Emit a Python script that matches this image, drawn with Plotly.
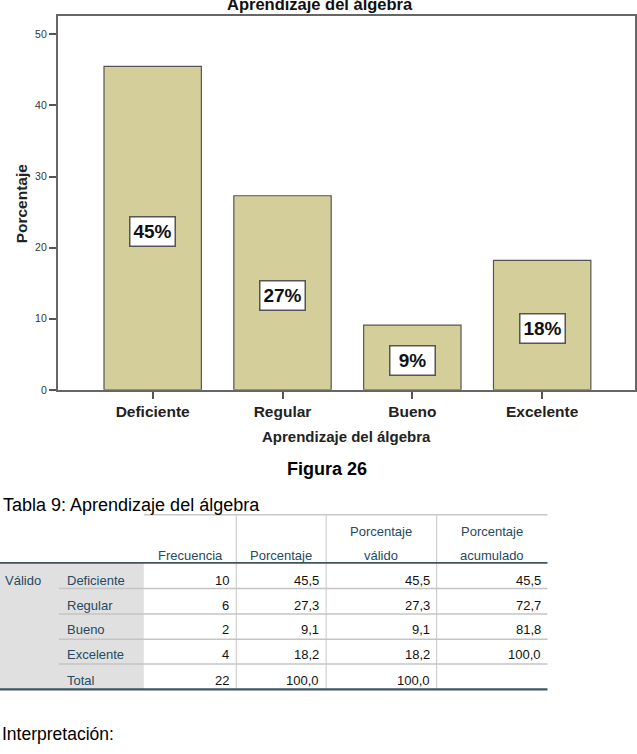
import plotly.graph_objects as go

# ---- data ----
categories = ["Deficiente", "Regular", "Bueno", "Excelente"]
percent = [45.5, 27.3, 9.1, 18.2]
bar_labels = ["45%", "27%", "9%", "18%"]
y_ticks = [0, 10, 20, 30, 40, 50]

table_rows = ["Deficiente", "Regular", "Bueno", "Excelente", "Total"]
frecuencia = ["10", "6", "2", "4", "22"]
porcentaje = ["45,5", "27,3", "9,1", "18,2", "100,0"]
porc_valido = ["45,5", "27,3", "9,1", "18,2", "100,0"]
porc_acum = ["45,5", "72,7", "81,8", "100,0", ""]

W, H = 637, 754
FONT = "Arial, Liberation Sans, sans-serif"


def X(px):
    return px / W


def Y(py):
    return 1 - py / H


fig = go.Figure(
    go.Bar(
        x=categories,
        y=percent,
        marker=dict(color="#D4CF9A", line=dict(color="#555555", width=1.2)),
        hoverinfo="skip",
    )
)

annotations = []
shapes = []

# bar labels (boxed)
for c, v, t in zip(categories, percent, bar_labels):
    annotations.append(dict(
        x=c, y=v / 2, xref="x", yref="y", text=t, showarrow=False,
        font=dict(family=FONT, size=19, color="#111", weight="bold"),
        bgcolor="white", bordercolor="#555555", borderwidth=1.5, borderpad=2,
        width=40, height=24,
        yshift=-3,
    ))

# chart title (cut at top)
annotations.append(dict(
    x=X(321), y=Y(4), xref="paper", yref="paper", text="Aprendizaje del álgebra",
    showarrow=False, xanchor="center", yanchor="middle",
    font=dict(family=FONT, size=16.5, color="#111", weight="bold"),
))
# axis titles
annotations.append(dict(
    x=X(347), y=Y(440), xref="paper", yref="paper", text="Aprendizaje del álgebra",
    showarrow=False, xanchor="center", yanchor="middle",
    font=dict(family=FONT, size=15, color="#222", weight="bold"),
))
annotations.append(dict(
    x=X(21), y=Y(205), xref="paper", yref="paper", text="Porcentaje",
    showarrow=False, xanchor="center", yanchor="middle", textangle=-90,
    font=dict(family=FONT, size=15.5, color="#222", weight="bold"),
))
# Figura caption
annotations.append(dict(
    x=X(328), y=Y(473), xref="paper", yref="paper", text="Figura 26",
    showarrow=False, xanchor="center", yanchor="middle",
    font=dict(family=FONT, size=18, color="#000", weight="bold"),
))
# Table caption
annotations.append(dict(
    x=X(1), y=Y(509), xref="paper", yref="paper", text="Tabla 9: Aprendizaje del álgebra",
    showarrow=False, xanchor="left", yanchor="middle",
    font=dict(family=FONT, size=18, color="#000"),
))
# Interpretación
annotations.append(dict(
    x=X(0), y=Y(740), xref="paper", yref="paper", text="Interpretación:",
    showarrow=False, xanchor="left", yanchor="middle",
    font=dict(family=FONT, size=17.5, color="#000"),
))

HDR = "#264A60"
txt = dict(family=FONT, size=13, color=HDR)
val = dict(family=FONT, size=13, color="#111")

# header texts (centered in columns)
col_edges = [144, 236.7, 326.7, 437.3, 548.3]
headers = [["", "Frecuencia"], ["", "Porcentaje"], ["Porcentaje", "válido"], ["Porcentaje", "acumulado"]]
for i, (l1, l2) in enumerate(headers):
    cx = (col_edges[i] + col_edges[i + 1]) / 2
    for t, yy in ((l1, 536), (l2, 560)):
        if t:
            annotations.append(dict(
                x=X(cx), y=Y(yy), xref="paper", yref="paper", text=t, showarrow=False,
                xanchor="center", yanchor="middle", font=txt,
            ))

# gray stub area
shapes.append(dict(type="rect", xref="paper", yref="paper",
                   x0=X(0), x1=X(144), y0=Y(567), y1=Y(694.5),
                   fillcolor="#E0E0E0", line=dict(width=0), layer="below"))

row_y = [585, 610, 635, 660, 686]
annotations.append(dict(
    x=X(3), y=Y(585), xref="paper", yref="paper", text="Válido", showarrow=False,
    xanchor="left", yanchor="middle", font=txt,
))
for r, yy in enumerate(row_y):
    annotations.append(dict(
        x=X(65), y=Y(yy), xref="paper", yref="paper", text=table_rows[r], showarrow=False,
        xanchor="left", yanchor="middle", font=txt,
    ))
    for col, rx in zip((frecuencia, porcentaje, porc_valido, porc_acum), (231.5, 322, 432.5, 543.5)):
        if col[r]:
            annotations.append(dict(
                x=X(rx), y=Y(yy), xref="paper", yref="paper", text=col[r], showarrow=False,
                xanchor="right", yanchor="middle", font=val,
            ))


def hline(x0, x1, y, color, width):
    shapes.append(dict(type="line", xref="paper", yref="paper",
                       x0=X(x0), x1=X(x1), y0=Y(y), y1=Y(y),
                       line=dict(color=color, width=width)))


def vline(x, y0, y1, color, width):
    shapes.append(dict(type="line", xref="paper", yref="paper",
                       x0=X(x), x1=X(x), y0=Y(y0), y1=Y(y1),
                       line=dict(color=color, width=width)))


# table lines
hline(144, 548.3, 519, "#C8C8C8", 1.5)
for vx in (236.7, 326.7, 437.3):
    vline(vx, 519, 567, "#D0D0D0", 1.2)
    vline(vx, 567, 694, "#D0D0D0", 1.2)
for yy in (593.3, 619, 644.3, 669.3):
    hline(59, 144, yy, "#C4C4C4", 1.5)
    hline(144, 548.3, yy, "#C4C4C4", 1.5)
hline(0, 548.3, 567.3, "#3E5566", 1.8)
hline(0, 548.3, 695, "#3E5566", 2.2)

fig.update_layout(
    width=W, height=H,
    margin=dict(l=0, r=0, t=0, b=0),
    paper_bgcolor="white", plot_bgcolor="white",
    showlegend=False,
    bargap=0.25,
    annotations=annotations,
    shapes=shapes,
    xaxis=dict(
        domain=[X(58), X(636)],
        range=[-0.73, 3.715],
        showline=True, linecolor="#666666", linewidth=2, mirror=True,
        ticks="outside", ticklen=7, tickcolor="#555555", tickwidth=1.5,
        tickfont=dict(family=FONT, size=15.5, color="#222", weight="bold"),
        showgrid=False, zeroline=False, fixedrange=True,
    ),
    yaxis=dict(
        domain=[Y(393), Y(16)],
        range=[0, 52.6],
        tickvals=y_ticks,
        showline=True, linecolor="#666666", linewidth=2, mirror=True,
        ticks="outside", ticklen=7, tickcolor="#555555", tickwidth=1.5,
        tickfont=dict(family=FONT, size=10.5, color="#333"),
        showgrid=False, zeroline=False, fixedrange=True,
    ),
)

fig.write_html("out.html")
